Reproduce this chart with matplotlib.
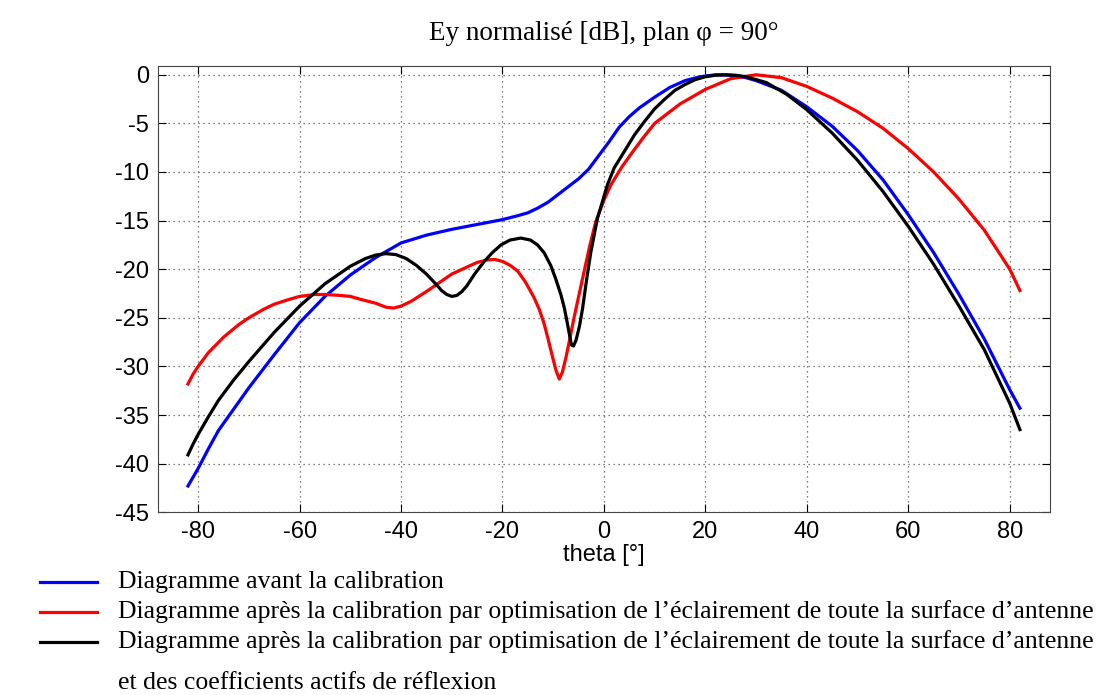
import matplotlib
matplotlib.use("Agg")
import matplotlib.pyplot as plt
from matplotlib.lines import Line2D

plt.rcParams["axes.unicode_minus"] = False

# valeurs (theta en degres, niveau en dB)
theta_avant = [-82, -81, -80, -78, -76, -73, -70, -65, -60, -55, -50, -45, -40, -35, -30,
               -25, -20, -17, -15, -13, -11, -9, -7, -5, -3, -1, 1, 3, 5, 7, 10, 13, 16,
               19, 22, 25, 28, 30, 35, 40, 45, 50, 55, 60, 65, 70, 75, 80, 82]
ey_avant = [-42.3, -41.4, -40.5, -38.5, -36.6, -34.4, -32.2, -28.8, -25.5, -22.8, -20.6,
            -18.8, -17.3, -16.5, -15.9, -15.4, -14.9, -14.5, -14.2, -13.7, -13.1, -12.3,
            -11.5, -10.7, -9.7, -8.3, -6.9, -5.4, -4.3, -3.4, -2.3, -1.3, -0.6, -0.2,
            0, -0.05, -0.3, -0.6, -1.6, -3.3, -5.3, -7.8, -10.8, -14.4, -18.3, -22.6,
            -27.2, -32.4, -34.3]

theta_red = [-82, -81, -80, -78, -75, -72, -70, -67, -65, -62, -60, -57, -55, -52, -50,
             -48, -45, -43, -41.5, -40, -38, -35, -30, -25, -23, -21.5, -20, -18.5, -17,
             -15.5, -13.8, -12.7, -11.8, -11, -10.1, -9.4, -8.8, -8.2, -7.5, -6.7, -5.9,
             -4.9, -3.9, -2.8, -1.6, 0, 1.4, 3.5, 5.7, 8, 10, 15, 20, 25, 30, 35, 40,
             45, 50, 55, 60, 65, 70, 75, 80, 82]
ey_red = [-31.8, -30.8, -30.0, -28.6, -27.0, -25.7, -25.0, -24.1, -23.6, -23.1, -22.8,
          -22.6, -22.6, -22.7, -22.8, -23.1, -23.5, -23.9, -24.0, -23.8, -23.3, -22.3,
          -20.5, -19.3, -19.05, -19.0, -19.2, -19.6, -20.2, -21.3, -22.9, -24.2, -25.6,
          -27.2, -29.1, -30.5, -31.3, -30.6, -29.1, -27.1, -25.0, -22.6, -20.2, -17.6,
          -15.1, -12.9, -11.3, -9.5, -7.9, -6.3, -5.0, -3.0, -1.5, -0.4, 0, -0.3, -1.2,
          -2.4, -3.8, -5.5, -7.6, -10.0, -12.8, -16.0, -20.0, -22.2]

theta_noir = [-82, -81, -80, -78, -76, -73, -70, -65, -60, -55, -50, -47, -45, -43, -41,
              -39, -37, -35, -33, -32, -31, -30, -29, -28, -27, -25.5, -23.6, -22, -20.3,
              -18.5, -16.4, -14.5, -13.1, -11.8, -10.5, -9.5, -8.5, -7.8, -7.2, -6.7,
              -6.4, -6.0, -5.5, -4.8, -4.2, -3.4, -2.6, -1.3, 0.7, 2, 4, 6, 8, 10, 12,
              14, 16, 18, 20, 22, 24, 26, 28, 32, 36, 40, 45, 50, 55, 60, 65, 70, 75,
              80, 82]
ey_noir = [-39.1, -38.0, -37.0, -35.2, -33.5, -31.4, -29.5, -26.5, -23.8, -21.5, -19.7,
           -18.9, -18.55, -18.4, -18.5, -18.9, -19.6, -20.5, -21.6, -22.2, -22.6, -22.8,
           -22.7, -22.3, -21.7, -20.5, -19.2, -18.3, -17.5, -17.0, -16.8, -17.0, -17.5,
           -18.3, -19.6, -21.0, -22.6, -24.0, -25.6, -27.0, -27.8, -27.9, -27.3, -25.8,
           -24.0, -21.0, -18.3, -14.8, -11.3, -9.6, -7.9, -6.2, -4.8, -3.5, -2.5, -1.6,
           -1.0, -0.5, -0.2, -0.05, 0, -0.05, -0.2, -0.8, -2.0, -3.6, -6.0, -8.8, -12.0,
           -15.6, -19.5, -23.8, -28.3, -33.8, -36.5]

labels = ["Diagramme avant la calibration",
          "Diagramme après la calibration par optimisation de l\u2019éclairement de toute la surface d\u2019antenne",
          "Diagramme après la calibration par optimisation de l\u2019éclairement de toute la surface d\u2019antenne"]
label_suite = "et des coefficients actifs de réflexion"
couleurs = ["#0000ff", "#ff0000", "#000000"]

fig = plt.figure(figsize=(11.04, 6.95), dpi=100)
ax = fig.add_axes([0.1427, 0.2630, 0.8087, 0.6420])

ax.plot(theta_avant, ey_avant, color=couleurs[0], lw=2.3)
ax.plot(theta_red, ey_red, color=couleurs[1], lw=2.3)
ax.plot(theta_noir, ey_noir, color=couleurs[2], lw=2.3)

ax.set_xlim(-88, 88)
ax.set_ylim(-45, 0.9)
ax.set_xticks(range(-80, 81, 20))
ax.set_yticks(range(-45, 1, 5))
ax.grid(True, linestyle=(0, (1, 3)), color="#555555", lw=0.9)
ax.tick_params(direction="in", length=6, top=True, right=True, labelsize=17, pad=6)
for lab in ax.get_xticklabels() + ax.get_yticklabels():
    lab.set_family("Liberation Sans")
for s in ax.spines.values():
    s.set_color("#444444")
ax.set_xlabel("theta [°]", family="Liberation Sans", fontsize=17, labelpad=1)

fig.text(0.547, 0.943, "Ey normalisé [dB], plan \u03c6 = 90°", family="Liberation Serif",
         fontsize=19.5, ha="center", va="baseline")

# legende dessinee a la main
y_lignes = [582, 612, 642]
for i in range(3):
    yf = 1 - y_lignes[i] / 695
    fig.add_artist(Line2D([40 / 1104, 97 / 1104], [yf, yf], color=couleurs[i], lw=2.3))
    fig.text(118 / 1104, yf, labels[i], family="Liberation Serif", fontsize=18.5,
             ha="left", va="center")
fig.text(118 / 1104, 1 - 683 / 695, label_suite, family="Liberation Serif", fontsize=18.5,
         ha="left", va="center")

fig.savefig("out.png", dpi=100)
